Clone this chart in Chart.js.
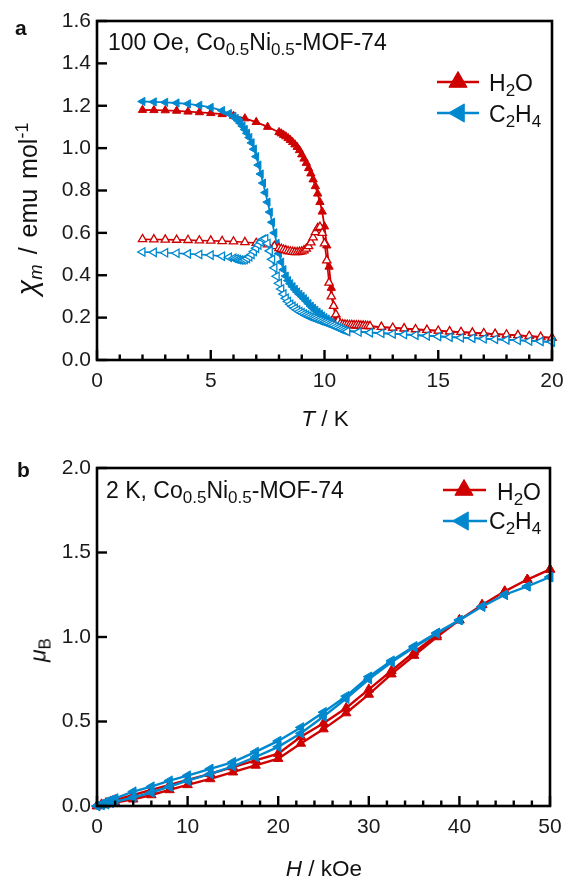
<!DOCTYPE html>
<html><head><meta charset="utf-8">
<script src="https://cdn.jsdelivr.net/npm/chart.js@4.4.1/dist/chart.umd.min.js"></script>
<style>
html,body{margin:0;padding:0;background:#fff;}
body{width:565px;height:880px;position:relative;overflow:hidden;font-family:'Liberation Sans',Arial,sans-serif;color:#111;}
.pan{position:absolute;left:0;width:565px;height:440px;}
.t{position:absolute;white-space:nowrap;line-height:1;}
.t sub{font-size:0.74em;vertical-align:-0.3em;line-height:0;}
.t sup{font-size:0.72em;vertical-align:0.5em;line-height:0;}
</style></head><body>
<div class="pan" style="top:0"><canvas id="ca" width="565" height="440"></canvas></div>
<div class="pan" style="top:440px"><canvas id="cb" width="565" height="440"></canvas></div>
<div id="labels"></div>
<script>
// ---------- Panel a: chi_m vs T (100 Oe) ----------
const T_H2O_FC = [2.0,2.5,3.0,3.5,4.0,4.5,5.0,5.5,6.0,6.5,7.0,7.5,
 8.0,8.1,8.2,8.3,8.4,8.5,8.6,8.7,8.8,8.9,9.0,9.1,9.2,9.3,9.4,9.5,9.6,9.7,9.8,9.9,
 10.0,10.1,10.2,10.3,10.4,10.5,10.6,10.7,10.8,10.9,11.0,11.1,11.2,11.3,11.4,11.5,11.6,11.7,11.8,11.9,12.0,
 12.5,13.0,13.5,14.0,14.5,15.0,15.5,16.0,16.5,17.0,17.5,18.0,18.5,19.0,19.5,20.0];
const chi_H2O_FC = [1.180,1.179,1.178,1.176,1.172,1.169,1.165,1.160,1.152,1.140,1.123,1.100,
 1.075,1.069,1.062,1.055,1.047,1.038,1.028,1.017,1.005,0.990,0.970,0.950,0.930,0.905,0.880,0.852,0.820,0.785,0.745,0.700,
 0.630,0.540,0.440,0.340,0.255,0.195,0.172,0.166,0.165,0.165,0.164,0.164,0.163,0.163,0.162,0.162,0.161,0.161,0.160,0.160,0.159,
 0.155,0.151,0.148,0.144,0.141,0.137,0.134,0.131,0.128,0.125,0.122,0.119,0.116,0.112,0.108,0.104];
const T_H2O_ZFC = [2.0,2.5,3.0,3.5,4.0,4.5,5.0,5.5,6.0,6.5,7.0,7.5,7.8,
 8.0,8.1,8.2,8.3,8.4,8.5,8.6,8.7,8.8,8.9,9.0,9.1,9.2,9.3,9.4,9.5,9.6,9.7,9.8,9.9,
 10.0,10.1,10.2,10.3,10.4,10.5,10.6,10.7,10.8,10.9,11.0,11.1,11.2,11.3,11.4,11.5,11.6,11.7,11.8,11.9,12.0,
 12.5,13.0,13.5,14.0,14.5,15.0,15.5,16.0,16.5,17.0,17.5,18.0,18.5,19.0,19.5,20.0];
const chi_H2O_ZFC = [0.570,0.569,0.568,0.567,0.566,0.564,0.563,0.561,0.559,0.556,0.552,0.545,0.537,
 0.528,0.524,0.520,0.517,0.514,0.512,0.510,0.509,0.509,0.510,0.512,0.517,0.525,0.537,0.555,0.578,0.603,0.622,0.628,0.600,
 0.550,0.470,0.365,0.300,0.255,0.215,0.185,0.171,0.168,0.167,0.166,0.165,0.165,0.164,0.164,0.163,0.162,0.162,0.161,0.160,0.160,
 0.156,0.152,0.149,0.145,0.142,0.138,0.135,0.132,0.129,0.126,0.123,0.120,0.117,0.113,0.109,0.105];
const T_C2H4_FC = [2.0,2.5,3.0,3.5,4.0,4.5,5.0,5.5,5.8,
 6.0,6.1,6.2,6.3,6.4,6.5,6.6,6.7,6.8,6.9,7.0,7.1,7.2,7.3,7.4,7.5,7.6,7.7,7.8,7.9,
 8.0,8.1,8.2,8.3,8.4,8.5,8.6,8.7,8.8,8.9,9.0,9.1,9.2,9.3,9.4,9.5,9.6,9.7,9.8,9.9,
 10.0,10.1,10.2,10.3,10.4,10.5,10.6,10.7,10.8,10.9,11.0,
 11.5,12.0,12.5,13.0,13.5,14.0,14.5,15.0,15.5,16.0,16.5,17.0,17.5,18.0,18.5,19.0,19.5,20.0];
const chi_C2H4_FC = [1.220,1.218,1.216,1.213,1.209,1.202,1.192,1.177,1.163,
 1.150,1.140,1.130,1.118,1.104,1.088,1.070,1.050,1.025,0.995,0.960,0.920,0.878,0.835,0.790,0.745,0.698,0.650,0.600,0.550,
 0.503,0.462,0.426,0.396,0.375,0.360,0.346,0.333,0.321,0.310,0.300,0.289,0.278,0.266,0.254,0.244,0.235,0.226,0.217,0.208,
 0.200,0.193,0.186,0.179,0.172,0.166,0.160,0.154,0.148,0.143,0.138,
 0.134,0.130,0.127,0.124,0.121,0.118,0.115,0.112,0.109,0.106,0.103,0.101,0.098,0.096,0.093,0.091,0.088,0.085];
const T_C2H4_ZFC = [2.0,2.5,3.0,3.5,4.0,4.5,5.0,5.5,5.8,
 6.0,6.1,6.2,6.3,6.4,6.5,6.6,6.7,6.8,6.9,7.0,7.1,7.2,7.3,7.4,7.5,7.6,7.7,7.8,7.9,
 8.0,8.1,8.2,8.3,8.4,8.5,8.6,8.7,8.8,8.9,9.0,9.1,9.2,9.3,9.4,9.5,9.6,9.7,9.8,9.9,
 10.0,10.1,10.2,10.3,10.4,10.5,10.6,10.7,10.8,10.9,11.0,
 11.5,12.0,12.5,13.0,13.5,14.0,14.5,15.0,15.5,16.0,16.5,17.0,17.5,18.0,18.5,19.0,19.5,20.0];
const chi_C2H4_ZFC = [0.510,0.508,0.506,0.504,0.501,0.498,0.495,0.490,0.485,
 0.480,0.477,0.474,0.472,0.472,0.474,0.479,0.487,0.498,0.512,0.528,0.543,0.557,0.570,0.572,0.550,0.515,0.475,0.435,0.395,
 0.362,0.335,0.311,0.291,0.276,0.263,0.253,0.244,0.236,0.229,0.223,0.217,0.212,0.207,0.203,0.199,0.195,0.191,0.187,0.183,
 0.179,0.175,0.171,0.167,0.162,0.157,0.152,0.147,0.143,0.139,0.135,
 0.132,0.129,0.126,0.123,0.120,0.117,0.114,0.111,0.108,0.105,0.103,0.100,0.098,0.095,0.093,0.090,0.088,0.085];

// ---------- Panel b: magnetisation vs H (2 K) ----------
const H_up   = [0,0.5,1,1.5,2,4,6,8,10,12.5,15,17.5,20,22.5,25,27.5,30,32.5,35,37.5,40,42.5,45,47.5,50];
const H_down = [50,47.5,45,42.5,40,37.5,35,32.5,30,27.5,25,22.5,20,17.5,15,12.5,10,8,6,4,2,1.5,1,0.5,0];
const mu_H2O_up    = [0,0.005,0.01,0.015,0.02,0.04,0.065,0.095,0.125,0.16,0.2,0.24,0.28,0.37,0.455,0.55,0.66,0.78,0.89,1.0,1.1,1.19,1.27,1.34,1.40];
const mu_H2O_down  = [1.40,1.34,1.27,1.19,1.10,1.01,0.91,0.80,0.69,0.58,0.49,0.41,0.31,0.27,0.23,0.19,0.155,0.125,0.095,0.065,0.035,0.027,0.018,0.01,0];
const mu_C2H4_up   = [0,0.005,0.01,0.018,0.025,0.05,0.08,0.115,0.15,0.19,0.235,0.29,0.35,0.43,0.53,0.635,0.75,0.85,0.94,1.02,1.1,1.18,1.25,1.30,1.355];
const mu_C2H4_down = [1.355,1.30,1.25,1.18,1.10,1.025,0.945,0.86,0.765,0.65,0.555,0.465,0.385,0.32,0.26,0.22,0.18,0.15,0.115,0.085,0.045,0.035,0.025,0.012,0];

const RED = 'rgb(206,0,0)';
const BLUE = 'rgb(0,136,206)';
function pts(xs, ys){ return xs.map((v,i)=>({x:v, y:ys[i]})); }

Chart.defaults.font.family = "'Liberation Sans', Arial, sans-serif";
Chart.defaults.font.size = 21;
Chart.defaults.color = '#1a1a1a';

function tri(ctx, cx, cy, r, rotDeg, fill, stroke, lw){
  const rot = rotDeg*Math.PI/180;
  ctx.beginPath();
  for (let k=0;k<3;k++){
    const a = rot + k*2*Math.PI/3;
    const px = cx + Math.sin(a)*r, py = cy - Math.cos(a)*r;
    if (k===0) ctx.moveTo(px,py); else ctx.lineTo(px,py);
  }
  ctx.closePath();
  ctx.fillStyle = fill; ctx.fill();
  ctx.lineWidth = lw; ctx.strokeStyle = stroke; ctx.stroke();
}

const frameTicks = {
  id:'frameTicks',
  afterDraw(chart){
    const ctx = chart.ctx;
    const a = chart.chartArea, x = chart.scales.x, y = chart.scales.y;
    const cfg = chart.config.options.tickCfg;
    ctx.save();
    ctx.strokeStyle = '#000';
    ctx.lineWidth = 2.4;
    ctx.lineCap = 'butt';
    const n = Math.round((x.max - x.min)/cfg.xMinor);
    for (let k = 0; k <= n; k++){
      const v = x.min + k*cfg.xMinor;
      const px = x.getPixelForValue(v);
      const isMajor = Math.abs(v/cfg.xMajor - Math.round(v/cfg.xMajor)) < 1e-6;
      ctx.beginPath();
      ctx.moveTo(px, a.bottom); ctx.lineTo(px, a.bottom - (isMajor ? 10 : 5.5));
      ctx.stroke();
    }
    y.ticks.forEach(t=>{
      const py = y.getPixelForValue(t.value);
      ctx.beginPath();
      ctx.moveTo(a.left, py); ctx.lineTo(a.left + 10, py);
      ctx.stroke();
    });
    ctx.lineWidth = 2.6;
    ctx.lineJoin = 'miter';
    ctx.strokeRect(a.left, a.top, a.right - a.left, a.bottom - a.top);
    (cfg.legend||[]).forEach(L=>{
      ctx.strokeStyle = L.color; ctx.lineWidth = 2.5;
      ctx.beginPath(); ctx.moveTo(L.x1, L.y); ctx.lineTo(L.x2, L.y); ctx.stroke();
      tri(ctx, L.cx, L.y, L.r, L.rot, L.color, L.color, 1);
    });
    ctx.restore();
  }
};

function scaleX(min,max,step,h,pad){
  return {type:'linear', min, max, ticks:{stepSize:step, padding:pad, maxRotation:0, autoSkip:false},
    grid:{display:false, drawTicks:false}, border:{display:false},
    afterFit(s){ s.height = h; s.paddingLeft = 0; s.paddingRight = 0; } };
}
function scaleY(min,max,step,w,pad){
  return {type:'linear', min, max, ticks:{stepSize:step, padding:pad, callback:v=>Number(v).toFixed(1)},
    grid:{display:false, drawTicks:false}, border:{display:false},
    afterFit(s){ s.width = w; s.paddingTop = 0; s.paddingBottom = 0; } };
}
const common = {responsive:false, animation:false, events:[], plugins:{legend:{display:false}, tooltip:{enabled:false}}};

new Chart(document.getElementById('ca'), {
  type:'scatter',
  data:{datasets:[
    {data:pts(T_C2H4_ZFC, chi_C2H4_ZFC), showLine:true, borderColor:BLUE, borderWidth:1.6, pointStyle:'triangle', rotation:-90, pointRadius:4.8, pointBackgroundColor:'#fff', pointBorderColor:BLUE, pointBorderWidth:1.3, clip:false, order:1},
    {data:pts(T_H2O_ZFC, chi_H2O_ZFC), showLine:true, borderColor:RED, borderWidth:1.6, pointStyle:'triangle', rotation:0, pointRadius:4.8, pointBackgroundColor:'#fff', pointBorderColor:RED, pointBorderWidth:1.3, clip:false, order:2},
    {data:pts(T_C2H4_FC, chi_C2H4_FC), showLine:true, borderColor:BLUE, borderWidth:1.8, pointStyle:'triangle', rotation:-90, pointRadius:4.8, pointBackgroundColor:BLUE, pointBorderColor:BLUE, pointBorderWidth:1, clip:false, order:3},
    {data:pts(T_H2O_FC, chi_H2O_FC), showLine:true, borderColor:RED, borderWidth:1.8, pointStyle:'triangle', rotation:0, pointRadius:4.8, pointBackgroundColor:RED, pointBorderColor:RED, pointBorderWidth:1, clip:false, order:4}
  ]},
  options:Object.assign({}, common, {
    tickCfg:{xMinor:1, xMajor:5,
      legend:[{color:RED, x1:437, x2:479, y:82, cx:458, r:10.5, rot:0},
              {color:BLUE, x1:437, x2:479, y:113, cx:459, r:10.5, rot:-90}]},
    layout:{padding:{top:21, right:13, left:0, bottom:0}},
    scales:{ x:scaleX(0,20,5,80,9), y:scaleY(0,1.6,0.2,97,6) }
  }),
  plugins:[frameTicks]
});

new Chart(document.getElementById('cb'), {
  type:'scatter',
  data:{datasets:[
    {data:pts(H_up.concat(H_down), mu_C2H4_up.concat(mu_C2H4_down)), showLine:true, borderColor:BLUE, borderWidth:2.4, pointStyle:'triangle', rotation:-90, pointRadius:5.5, pointBackgroundColor:BLUE, pointBorderColor:BLUE, pointBorderWidth:1, clip:false, order:1},
    {data:pts(H_up.concat(H_down), mu_H2O_up.concat(mu_H2O_down)), showLine:true, borderColor:RED, borderWidth:2.4, pointStyle:'triangle', rotation:0, pointRadius:5.5, pointBackgroundColor:RED, pointBorderColor:RED, pointBorderWidth:1, clip:false, order:2}
  ]},
  options:Object.assign({}, common, {
    tickCfg:{xMinor:2, xMajor:10,
      legend:[{color:RED, x1:443, x2:486, y:50, cx:464, r:10.5, rot:0},
              {color:BLUE, x1:443, x2:487, y:81, cx:463, r:10.5, rot:-90}]},
    layout:{padding:{top:28, right:15, left:0, bottom:0}},
    scales:{ x:scaleX(0,50,10,74,9), y:scaleY(0,2.0,0.5,97,6) }
  }),
  plugins:[frameTicks]
});

// ---------- HTML text (with sub/superscripts) ----------
const L = document.getElementById('labels');
function put(html, x, baseline, size, opts){
  opts = opts||{};
  const d = document.createElement('div');
  d.className = 't';
  d.innerHTML = html;
  d.style.fontSize = size+'px';
  if (opts.bold) d.style.fontWeight = 'bold';
  if (opts.ws) d.style.wordSpacing = opts.ws+'px';
  if (opts.rot){
    d.style.left = x+'px'; d.style.top = baseline+'px';
    d.style.transform = 'translate(-50%,-50%) rotate(-90deg)';
  } else {
    d.style.left = x+'px';
    d.style.top = (baseline - 0.8465*size)+'px';
    if (opts.center) d.style.transform = 'translateX(-50%)';
  }
  L.appendChild(d);
}
put('a', 15, 35, 21, {bold:true});
put('100 Oe, Co<sub>0.5</sub>Ni<sub>0.5</sub>-MOF-74', 108, 50, 23);
put('H<sub>2</sub>O', 489, 91, 23);
put('C<sub>2</sub>H<sub>4</sub>', 489, 122, 23);
put('<i>T</i> / K', 325, 427, 22.5, {center:true});
put('<i><span style="font-size:1.15em">χ</span><sub>m</sub></i> / emu mol<sup>-1</sup>', 27, 209, 25, {rot:true, ws:3});
put('b', 17, 477, 21, {bold:true});
put('2 K, Co<sub>0.5</sub>Ni<sub>0.5</sub>-MOF-74', 106, 498, 23);
put('H<sub>2</sub>O', 497, 500, 23);
put('C<sub>2</sub>H<sub>4</sub>', 489, 529, 23);
put('<i>H</i> / kOe', 324, 877, 22.5, {center:true});
put('<i>μ</i><sub>B</sub>', 38, 650, 23, {rot:true});
</script>
</body></html>
